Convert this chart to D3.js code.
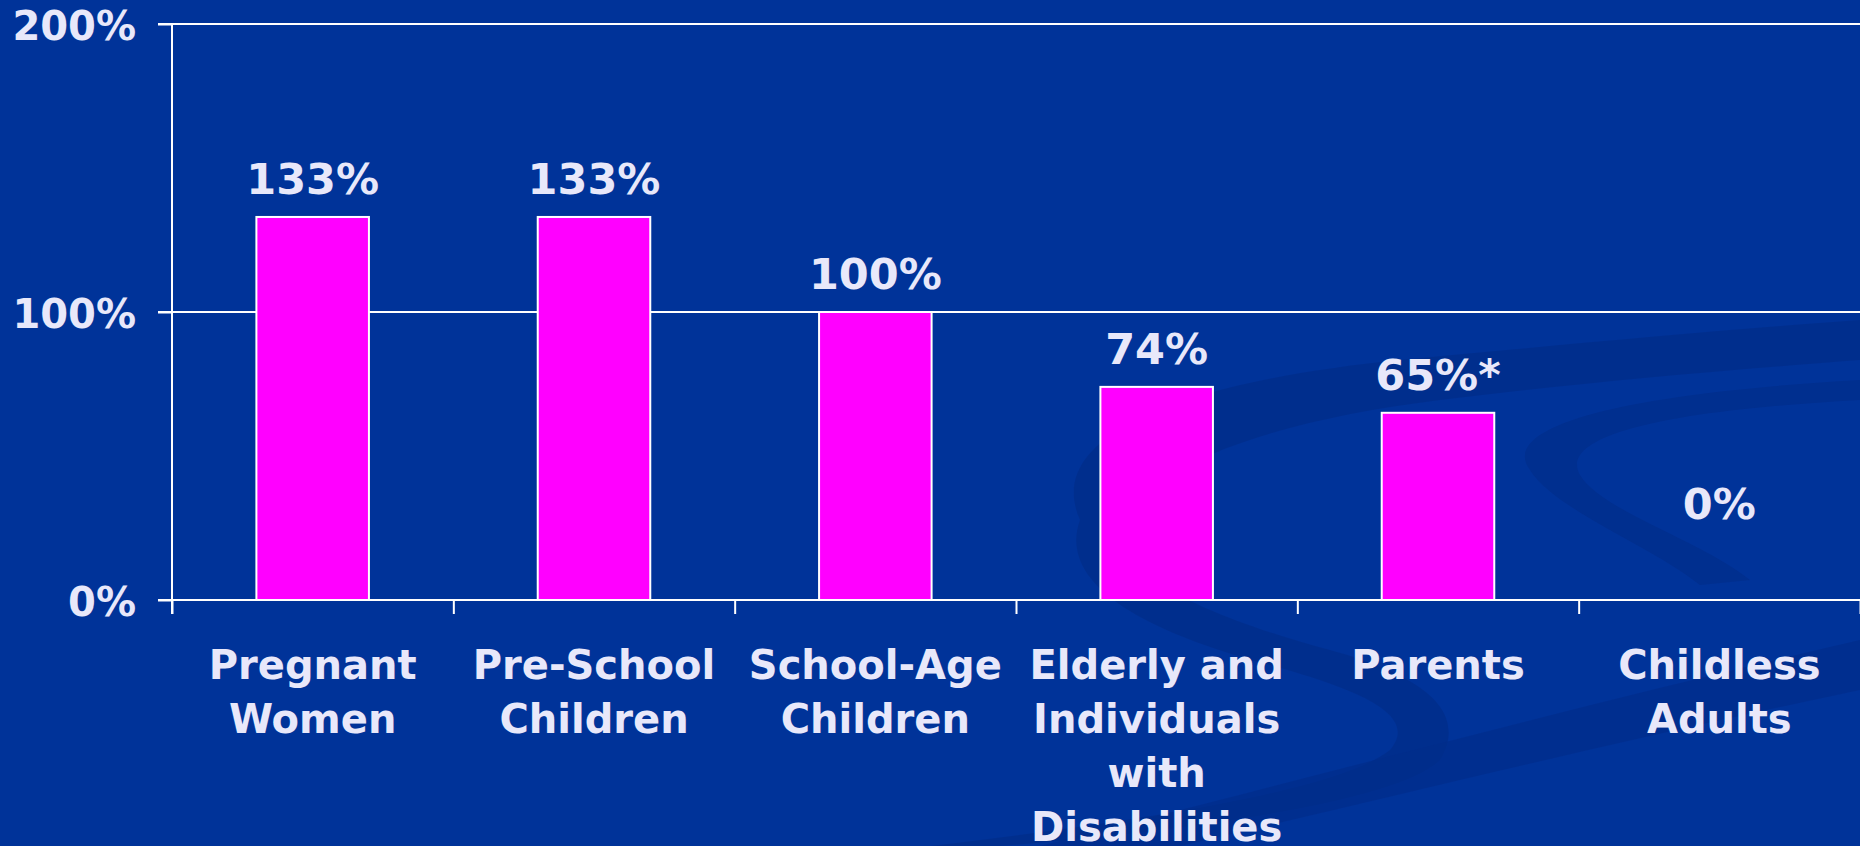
<!DOCTYPE html>
<html>
<head>
<meta charset="utf-8">
<script src="https://cdn.jsdelivr.net/npm/d3@7"></script>
<style>
  html, body { margin: 0; padding: 0; background: #003399; }
  svg { display: block; }
  .lbl { font-family: "DejaVu Sans", Verdana, sans-serif; font-weight: bold; fill: #e8e8fa; }
</style>
</head>
<body>
<div id="chart"></div>
<script>
// data
var categories = [
  ["Pregnant", "Women"],
  ["Pre-School", "Children"],
  ["School-Age", "Children"],
  ["Elderly and", "Individuals", "with", "Disabilities"],
  ["Parents"],
  ["Childless", "Adults"]
];
var values = [133, 133, 100, 74, 65, 0];
var valueLabels = ["133%", "133%", "100%", "74%", "65%*", "0%"];
var yTicks = [0, 100, 200];

(function(){
  var w = 1860, h = 846;
  var plotLeft = 172, plotRight = 1860, plotTop = 24, plotBottom = 600;

  var svg = d3.select("#chart").append("svg")
    .attr("width", w)
    .attr("height", h);

  // faint swirl of the slide background
  var deco = svg.append("g").attr("class", "deco");
  deco.append("path")
    .attr("d", "M1080,520 C1040,430 1200,380 1400,360 C1560,345 1720,330 1860,320 L1860,360 C1700,372 1560,385 1440,400 C1280,420 1160,460 1120,520 C1100,560 1180,610 1330,650 C1420,675 1470,710 1440,760 C1400,800 1200,830 1000,846 L930,846 C1150,820 1340,790 1390,750 C1420,715 1360,690 1270,665 C1120,625 1060,575 1080,520 Z")
    .attr("fill", "#002d8a")
    .attr("opacity", 0.75);
  deco.append("path")
    .attr("d", "M1530,470 C1500,430 1600,395 1860,380 L1860,400 C1640,412 1560,440 1580,475 C1600,510 1700,540 1750,580 L1700,585 C1650,545 1555,510 1530,470 Z")
    .attr("fill", "#002d8a")
    .attr("opacity", 0.7);
  deco.append("path")
    .attr("d", "M1040,846 C1300,780 1600,700 1860,640 L1860,690 C1620,740 1380,800 1180,846 Z")
    .attr("fill", "#002d8a")
    .attr("opacity", 0.65);

  var y = d3.scaleLinear().domain([0, 200]).range([plotBottom, plotTop]);

  var x = d3.scaleBand()
    .domain(d3.range(categories.length))
    .range([plotLeft, plotRight])
    .paddingInner(0.6)
    .paddingOuter(0.3);

  // category boundaries for the x ticks
  var xb = d3.scaleLinear().domain([0, categories.length]).range([plotLeft, plotRight]);

  // gridlines
  svg.append("g").attr("class", "grid")
    .selectAll("line")
    .data(yTicks.filter(function(d){ return d > 0; }))
    .enter().append("line")
    .attr("x1", plotLeft - 14)
    .attr("x2", plotRight)
    .attr("y1", function(d){ return y(d); })
    .attr("y2", function(d){ return y(d); })
    .attr("stroke", "#ffffff")
    .attr("stroke-width", 2);

  // y axis
  var yAxis = svg.append("g")
    .attr("transform", "translate(" + plotLeft + ",0)")
    .call(d3.axisLeft(y)
      .tickValues(yTicks)
      .tickSize(14)
      .tickPadding(22)
      .tickFormat(function(d){ return d + "%"; }));
  yAxis.select(".domain").remove();
  yAxis.selectAll(".tick line").attr("stroke", "#ffffff").attr("stroke-width", 2);
  yAxis.selectAll(".tick text")
    .attr("class", "lbl")
    .attr("dy", "0.38em")
    .style("font-size", "40px");
  yAxis.append("line")
    .attr("x1", 0).attr("x2", 0)
    .attr("y1", plotTop).attr("y2", plotBottom + 14)
    .attr("stroke", "#ffffff")
    .attr("stroke-width", 2);

  // bars
  svg.append("g").attr("class", "bars")
    .selectAll("rect")
    .data(values)
    .enter().append("rect")
    .attr("x", function(d, i){ return x(i); })
    .attr("width", x.bandwidth())
    .attr("y", function(d){ return y(d); })
    .attr("height", function(d){ return y(0) - y(d); })
    .attr("fill", "#ff00ff")
    .attr("stroke", "#ffffff")
    .attr("stroke-width", 2);

  // x axis
  var xAxis = svg.append("g")
    .attr("transform", "translate(0," + plotBottom + ")")
    .call(d3.axisBottom(xb)
      .tickValues(d3.range(categories.length + 1))
      .tickSize(14)
      .tickFormat(""));
  xAxis.select(".domain").remove();
  xAxis.selectAll(".tick line").attr("stroke", "#ffffff").attr("stroke-width", 2);
  xAxis.append("line")
    .attr("x1", plotLeft - 14).attr("x2", plotRight)
    .attr("y1", 0).attr("y2", 0)
    .attr("stroke", "#ffffff")
    .attr("stroke-width", 2);

  // value labels (zero bar label is lifted like on the slide)
  svg.append("g").attr("class", "values")
    .selectAll("text")
    .data(values)
    .enter().append("text")
    .attr("class", "lbl")
    .attr("text-anchor", "middle")
    .attr("x", function(d, i){ return x(i) + x.bandwidth() / 2; })
    .attr("y", function(d){ return y(Math.max(d, 20)) - 23; })
    .style("font-size", "43px")
    .text(function(d, i){ return valueLabels[i]; });

  // category labels
  var cat = svg.append("g").attr("class", "cats")
    .selectAll("text")
    .data(categories)
    .enter().append("text")
    .attr("class", "lbl")
    .attr("text-anchor", "middle")
    .attr("x", function(d, i){ return x(i) + x.bandwidth() / 2; })
    .attr("y", 679)
    .style("font-size", "40px");
  cat.selectAll("tspan")
    .data(function(d){ return d; })
    .enter().append("tspan")
    .attr("x", function(){ return d3.select(this.parentNode).attr("x"); })
    .attr("dy", function(d, i){ return i === 0 ? 0 : 54; })
    .text(function(d){ return d; });
})();
</script>
</body>
</html>
